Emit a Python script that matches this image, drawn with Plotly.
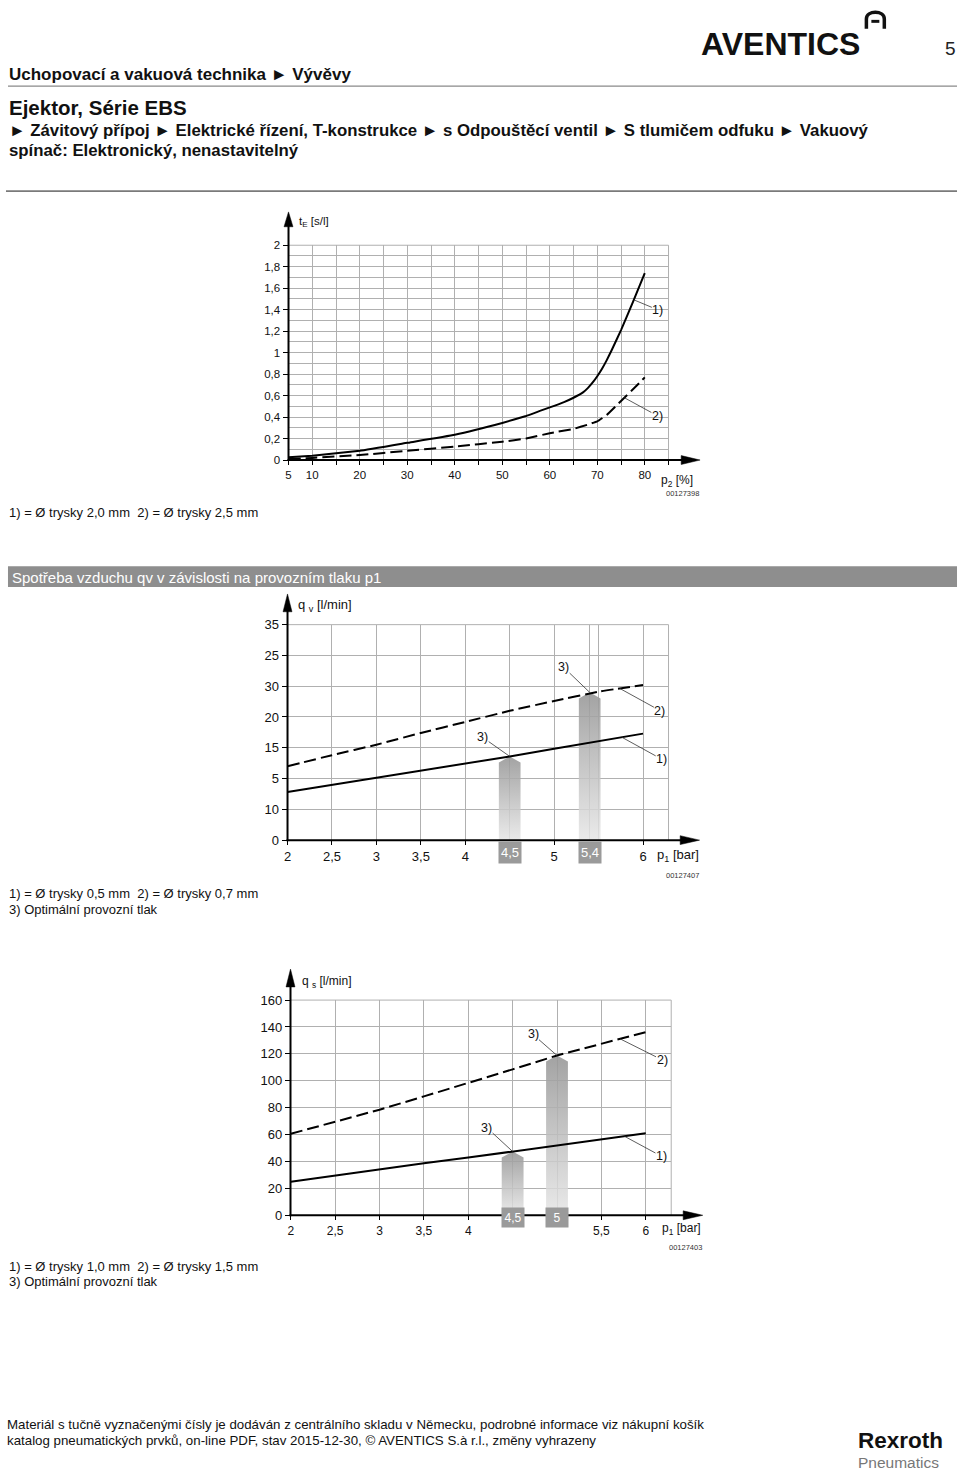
import plotly.graph_objects as go
import numpy as np

# ---------------- data ----------------
# Chart 1: evacuation time t_E [s/l] vs vacuum p2 [%]
p2_pct_a = [5, 10, 20, 30, 40, 50, 55, 60, 63, 65, 67, 68, 69, 70, 71, 72, 73, 75, 77.5, 80]
tE_nozzle_20 = [0.025, 0.04, 0.086, 0.16, 0.235, 0.345, 0.41, 0.49, 0.54, 0.58, 0.63, 0.67, 0.72, 0.78, 0.85,
                0.93, 1.02, 1.21, 1.47, 1.74]
p2_pct_b = [5, 10, 20, 30, 40, 50, 55, 60, 65, 68, 70, 72, 75, 78, 80]
tE_nozzle_25 = [0.01, 0.02, 0.046, 0.086, 0.126, 0.17, 0.2, 0.25, 0.29, 0.33, 0.36, 0.42, 0.55, 0.68, 0.77]
c1_xtickvals = [5, 10, 20, 30, 40, 50, 60, 70, 80]
c1_xticktext = ["5", "10", "20", "30", "40", "50", "60", "70", "80"]
c1_ytickvals = [0, 0.2, 0.4, 0.6, 0.8, 1.0, 1.2, 1.4, 1.6, 1.8, 2.0]
c1_yticktext = ["0", "0,2", "0,4", "0,6", "0,8", "1", "1,2", "1,4", "1,6", "1,8", "2"]

# Chart 2: air consumption q_v [l/min] vs p1 [bar]
p1_bar = [2, 2.5, 3, 3.5, 4, 4.5, 5, 5.5, 6]
qv_nozzle_05 = [7.8, 8.95, 10.1, 11.35, 12.5, 13.6, 14.85, 16.1, 17.3]
qv_nozzle_07 = [12.0, 13.8, 15.5, 17.4, 19.2, 21.0, 22.6, 24.1, 25.2]
c2_xtickvals = [2, 2.5, 3, 3.5, 4, 4.5, 5, 5.4, 6]
c2_xticktext = ["2", "2,5", "3", "3,5", "4", "4,5", "5", "5,4", "6"]
c2_boxed = ["4,5", "5,4"]
c2_ytickvals = [0, 5, 10, 15, 20, 25, 30, 35]
c2_yticktext = ["0", "10", "5", "15", "20", "30", "25", "35"]
c2_opt_p = [4.5, 5.4]
c2_opt_q = [13.6, 24.0]

# Chart 3: suction flow q_s [l/min] vs p1 [bar]
qs_nozzle_10 = [25.0, 29.6, 34.4, 38.6, 42.9, 47.5, 52.0, 56.4, 60.9]
qs_nozzle_15 = [60.6, 69.7, 78.5, 88.4, 98.2, 108.5, 118.8, 127.6, 136.2]
c3_xtickvals = [2, 2.5, 3, 3.5, 4, 4.5, 5, 5.5, 6]
c3_xticktext = ["2", "2,5", "3", "3,5", "4", "4,5", "5", "5,5", "6"]
c3_boxed = ["4,5", "5"]
c3_ytickvals = [0, 20, 40, 60, 80, 100, 120, 140, 160]
c3_yticktext = ["0", "20", "40", "60", "80", "100", "120", "140", "160"]
c3_opt_p = [4.5, 5.0]
c3_opt_q = [47.4, 118.8]

# ---------------- helpers ----------------
W, H = 960, 1473
def px(x):
    return x / W
def py(y):
    return 1 - y / H

FONT = "Liberation Sans, Arial, Helvetica, sans-serif"
NARROW = "Liberation Sans Narrow, Arial Narrow, Liberation Sans, Arial, sans-serif"
GRID = "#b0b0b0"
INK = "#111111"
DASH = "12px,5px"

fig = go.Figure()
shapes = []
annos = []

def text(x, y, s, size=13, color=INK, xanchor="left", family=FONT, yanchor="middle", **kw):
    if xanchor == "left":
        x -= 1
    annos.append(dict(x=px(x), y=py(y), xref="paper", yref="paper", text=s, showarrow=False,
                      xanchor=xanchor, yanchor=yanchor, borderpad=0,
                      font=dict(family=family, size=size, color=color), **kw))

def hline(x0, x1, y, color, width):
    shapes.append(dict(type="line", xref="paper", yref="paper", x0=px(x0), x1=px(x1), y0=py(y), y1=py(y),
                       line=dict(color=color, width=width)))

def axes_arrows(ax_x, ax_y, ytop_line, ytip, ybase, xright_line, xtip, xbase, hw=4.5):
    shapes.append(dict(type="line", xref="paper", yref="paper", x0=px(ax_x), x1=px(ax_x),
                       y0=py(ax_y + 1), y1=py(ytop_line), line=dict(color="black", width=2)))
    shapes.append(dict(type="path", xref="paper", yref="paper",
                       path=f"M {px(ax_x)},{py(ytip)} L {px(ax_x - hw)},{py(ybase)} L {px(ax_x + hw)},{py(ybase)} Z",
                       fillcolor="black", line=dict(color="black", width=0.5)))
    shapes.append(dict(type="line", xref="paper", yref="paper", x0=px(ax_x - 1), x1=px(xright_line),
                       y0=py(ax_y), y1=py(ax_y), line=dict(color="black", width=2)))
    shapes.append(dict(type="path", xref="paper", yref="paper",
                       path=f"M {px(xtip)},{py(ax_y)} L {px(xbase)},{py(ax_y - hw)} L {px(xbase)},{py(ax_y + hw)} Z",
                       fillcolor="black", line=dict(color="black", width=0.5)))

def edges(xa, ya):
    shapes.append(dict(type="line", xref=f"{xa} domain", yref=f"{ya} domain", x0=1, x1=1, y0=0, y1=1,
                       line=dict(color=GRID, width=1), layer="below"))
    shapes.append(dict(type="line", xref=f"{xa} domain", yref=f"{ya} domain", x0=0, x1=1, y0=1, y1=1,
                       line=dict(color=GRID, width=1), layer="below"))

def leader(xa, ya, x, y, dx, dy, s, size=12.5):
    annos.append(dict(x=x, y=y, xref=xa, yref=ya, ax=dx, ay=dy, text=s, showarrow=True, arrowhead=0,
                      arrowwidth=0.8, arrowcolor="#333", font=dict(family=FONT, size=size, color=INK),
                      borderpad=0))

def bars(xa, ya, opt_p, opt_q, hw, notch):
    for p, q in zip(opt_p, opt_q):
        fig.add_trace(go.Scatter(
            x=[p - hw, p - hw, p, p + hw, p + hw, p - hw],
            y=[0, q - notch, q, q - notch, 0, 0],
            mode="lines", fill="toself", line=dict(width=0, color="rgba(0,0,0,0)"),
            fillgradient=dict(type="vertical",
                              colorscale=[[0, "rgba(230,230,230,0.85)"], [1, "rgba(150,150,150,0.88)"]]),
            xaxis=xa, yaxis=ya, showlegend=False, hoverinfo="skip"))

def boxed_ticks(xa, tickvals, ticktext, boxed, ycenter, w, h, size):
    for v, t in zip(tickvals, ticktext):
        if t in boxed:
            annos.append(dict(x=v, y=py(ycenter), xref=xa, yref="paper", text=t, showarrow=False,
                              width=w, height=h, bgcolor="#9a9a9a", borderpad=0,
                              font=dict(family=FONT, size=size, color="white")))

def split(tickvals, ticktext, boxed):
    vals = [v for v, t in zip(tickvals, ticktext) if t not in boxed]
    txt = [t for t in ticktext if t not in boxed]
    bvals = [v for v, t in zip(tickvals, ticktext) if t in boxed]
    return vals, txt, bvals

# ---------------- header ----------------
text(700, 37, "<b>AVENTICS</b>", size=32, color="#111")
shapes.append(dict(type="path", xref="paper", yref="paper",
                   path=(f"M {px(866)},{py(22)} L {px(866)},{py(12)} C {px(866)},{py(3)} {px(884)},{py(3)} {px(884)},{py(12)} "
                         f"L {px(884)},{py(22)}"),
                   line=dict(color="#111", width=3.5)))
shapes.append(dict(type="rect", xref="paper", yref="paper", x0=px(871), x1=px(879), y0=py(16), y1=py(13),
                   fillcolor="#111", line=dict(width=0)))
text(957, 42, "5", size=19, color="#222", xanchor="right")

text(5, 68, "<b>Uchopovací a vakuová technika ► Vývěvy</b>", size=17, family=NARROW)
hline(4, 957, 80, "#8a8a8a", 1.2)
text(5, 102, "<b>Ejektor, Série EBS</b>", size=20.5, family=NARROW)
text(5, 125, "<b>► Závitový přípoj ► Elektrické řízení, T-konstrukce ► s Odpouštěcí ventil ► S tlumičem odfuku ► Vakuový</b>",
     size=16.8, family=NARROW)
text(5, 145, "<b>spínač: Elektronický, nenastavitelný</b>", size=16.8, family=NARROW)
hline(2, 957, 186, "#7a7a7a", 1.6)

# ---------------- chart 1 ----------------
fig.add_trace(go.Scatter(x=p2_pct_a, y=tE_nozzle_20, mode="lines",
                         line=dict(color="black", width=2, shape="spline", smoothing=0.3),
                         xaxis="x", yaxis="y", showlegend=False, hoverinfo="skip"))
fig.add_trace(go.Scatter(x=p2_pct_b, y=tE_nozzle_25, mode="lines",
                         line=dict(color="black", width=2, dash=DASH, shape="spline", smoothing=0.3),
                         xaxis="x", yaxis="y", showlegend=False, hoverinfo="skip"))
edges("x", "y")
axes_arrows(285.7, 457.7, 215, 207, 222, 684, 699, 680)
leader("x", "y", 77.7, float(np.interp(77.7, p2_pct_a, tE_nozzle_20)), 24, 10, "1)")
leader("x", "y", 75.7, float(np.interp(75.7, p2_pct_b, tE_nozzle_25)), 33, 18, "2)")
text(296, 217, "t<sub>E</sub> [s/l]", size=11.5)
text(660, 479, "p<sub>2</sub> [%]", size=12)
text(699, 492, "00127398", size=7.5, color="#333", xanchor="right")
text(5, 511, "1) = Ø trysky 2,0 mm  2) = Ø trysky 2,5 mm", size=13)

# ---------------- section bar ----------------
shapes.append(dict(type="rect", xref="paper", yref="paper", x0=px(4), x1=px(957), y0=py(586), y1=py(565),
                   fillcolor="#8e8e8e", line=dict(width=0)))
text(8, 576, "Spotřeba vzduchu qv v závislosti na provozním tlaku p1", size=15, color="white")

# ---------------- chart 2 ----------------
bars("x2", "y2", c2_opt_p, c2_opt_q, 0.122, 1.0)
fig.add_trace(go.Scatter(x=p1_bar, y=qv_nozzle_05, mode="lines", line=dict(color="black", width=2),
                         xaxis="x2", yaxis="y2", showlegend=False, hoverinfo="skip"))
fig.add_trace(go.Scatter(x=p1_bar, y=qv_nozzle_07, mode="lines",
                         line=dict(color="black", width=2, dash=DASH, shape="spline", smoothing=0.5),
                         xaxis="x2", yaxis="y2", showlegend=False, hoverinfo="skip"))
edges("x2", "y2")
axes_arrows(284.7, 841.7, 600, 593, 611, 684, 698.5, 679)
boxed_ticks("x2", c2_xtickvals, c2_xticktext, c2_boxed, 854.5, 22, 21, 13)
leader("x2", "y2", c2_opt_p[0], c2_opt_q[0], -27, -19, "3)")
leader("x2", "y2", c2_opt_p[1], c2_opt_q[1], -26, -25, "3)")
leader("x2", "y2", 5.74, float(np.interp(5.74, p1_bar, qv_nozzle_07)), 40, 22, "2)")
leader("x2", "y2", 5.76, float(np.interp(5.76, p1_bar, qv_nozzle_05)), 40, 22, "1)")
text(295, 605, "q <sub>v</sub> [l/min]", size=13)
text(656, 857, "p<sub>1</sub> [bar]", size=13)
text(698.5, 877, "00127407", size=7.5, color="#333", xanchor="right")
text(5, 896, "1) = Ø trysky 0,5 mm  2) = Ø trysky 0,7 mm", size=13)
text(5, 912, "3) Optimální provozní tlak", size=13)

# ---------------- chart 3 ----------------
bars("x3", "y3", c3_opt_p, c3_opt_q, 0.123, 4.5)
fig.add_trace(go.Scatter(x=p1_bar, y=qs_nozzle_10, mode="lines", line=dict(color="black", width=2),
                         xaxis="x3", yaxis="y3", showlegend=False, hoverinfo="skip"))
fig.add_trace(go.Scatter(x=p1_bar, y=qs_nozzle_15, mode="lines",
                         line=dict(color="black", width=2, dash=DASH),
                         xaxis="x3", yaxis="y3", showlegend=False, hoverinfo="skip"))
edges("x3", "y3")
axes_arrows(287.7, 1220.7, 980, 972, 990, 688, 701.7, 682)
boxed_ticks("x3", c3_xtickvals, c3_xticktext, c3_boxed, 1233.5, 22, 19, 12)
leader("x3", "y3", c3_opt_p[0], c3_opt_q[0], -26, -24, "3)")
leader("x3", "y3", c3_opt_p[1], c3_opt_q[1], -24, -21, "3)")
leader("x3", "y3", 5.71, float(np.interp(5.71, p1_bar, qs_nozzle_15)), 42, 21, "2)")
leader("x3", "y3", 5.76, float(np.interp(5.76, p1_bar, qs_nozzle_10)), 37, 20, "1)")
text(299, 985, "q <sub>s</sub> [l/min]", size=12)
text(661, 1235, "p<sub>1</sub> [bar]", size=12)
text(702, 1253, "00127403", size=7.5, color="#333", xanchor="right")
text(5, 1272, "1) = Ø trysky 1,0 mm  2) = Ø trysky 1,5 mm", size=13)
text(5, 1288, "3) Optimální provozní tlak", size=13)

# ---------------- footer ----------------
text(3, 1432, "Materiál s tučně vyznačenými čísly je dodáván z centrálního skladu v Německu, podrobné informace viz nákupní košík",
     size=13.3, family=NARROW)
text(3, 1448, "katalog pneumatických prvků, on-line PDF, stav 2015-12-30, © AVENTICS S.à r.l., změny vyhrazeny",
     size=13.3, family=NARROW)
text(858, 1457, "<span style='font-size:22.5px'><b>Rexroth</b></span><br><span style='color:#777'>Pneumatics</span>",
     size=15.5, color="#111", align="left")

# ---------------- axes ----------------
def xaxis(d0, d1, rng, tv, tt, anchor, fs, minor):
    return dict(domain=[px(d0), px(d1)], range=rng, anchor=anchor, tickmode="array", tickvals=tv, ticktext=tt,
                showgrid=True, gridcolor=GRID, gridwidth=1, zeroline=False, showline=False,
                ticks="outside", ticklen=4, tickwidth=1, tickcolor="black",
                tickfont=dict(family=FONT, size=fs, color=INK), minor=minor, fixedrange=True)

def yaxis(b, t, rng, tv, tt, anchor, fs, minor=None):
    d = dict(domain=[py(b), py(t)], range=rng, anchor=anchor, tickmode="array", tickvals=tv, ticktext=tt,
             showgrid=True, gridcolor=GRID, gridwidth=1, zeroline=False, showline=False,
             ticks="outside", ticklen=5, tickwidth=1, tickcolor="black",
             tickfont=dict(family=FONT, size=fs, color=INK), fixedrange=True)
    if minor:
        d["minor"] = minor
    return d

c2_tv, c2_tt, c2_bv = split(c2_xtickvals, c2_xticktext, c2_boxed)
c3_tv, c3_tt, c3_bv = split(c3_xtickvals, c3_xticktext, c3_boxed)

fig.update_layout(
    width=W, height=H, margin=dict(l=0, r=0, t=0, b=0),
    paper_bgcolor="white", plot_bgcolor="white", showlegend=False,
    xaxis=xaxis(285.7, 667.3, [5, 85], c1_xtickvals, c1_xticktext, "y", 11.5,
                dict(tickmode="linear", tick0=5, dtick=5, showgrid=True, gridcolor=GRID, ticks="outside",
                     ticklen=4, tickcolor="black")),
    yaxis=yaxis(457.7, 240.7, [0, 2], c1_ytickvals, c1_yticktext, "x", 11.5,
                dict(tickmode="linear", tick0=0, dtick=0.1, showgrid=True, gridcolor=GRID)),
    xaxis2=xaxis(284.7, 667.3, [2, 6.287], c2_tv, c2_tt, "y2", 13,
                 dict(tickmode="array", tickvals=c2_bv + [5.5], showgrid=True, gridcolor=GRID)),
    yaxis2=yaxis(841.7, 624, [0, 35], c2_ytickvals, c2_yticktext, "x2", 13),
    xaxis3=xaxis(288, 670, [2, 6.287], c3_tv, c3_tt, "y3", 12,
                 dict(tickmode="array", tickvals=c3_bv, showgrid=True, gridcolor=GRID)),
    yaxis3=yaxis(1220.7, 1003.3, [0, 160], c3_ytickvals, c3_yticktext, "x3", 13),
    shapes=shapes, annotations=annos,
)

fig.write_html("out.html")
